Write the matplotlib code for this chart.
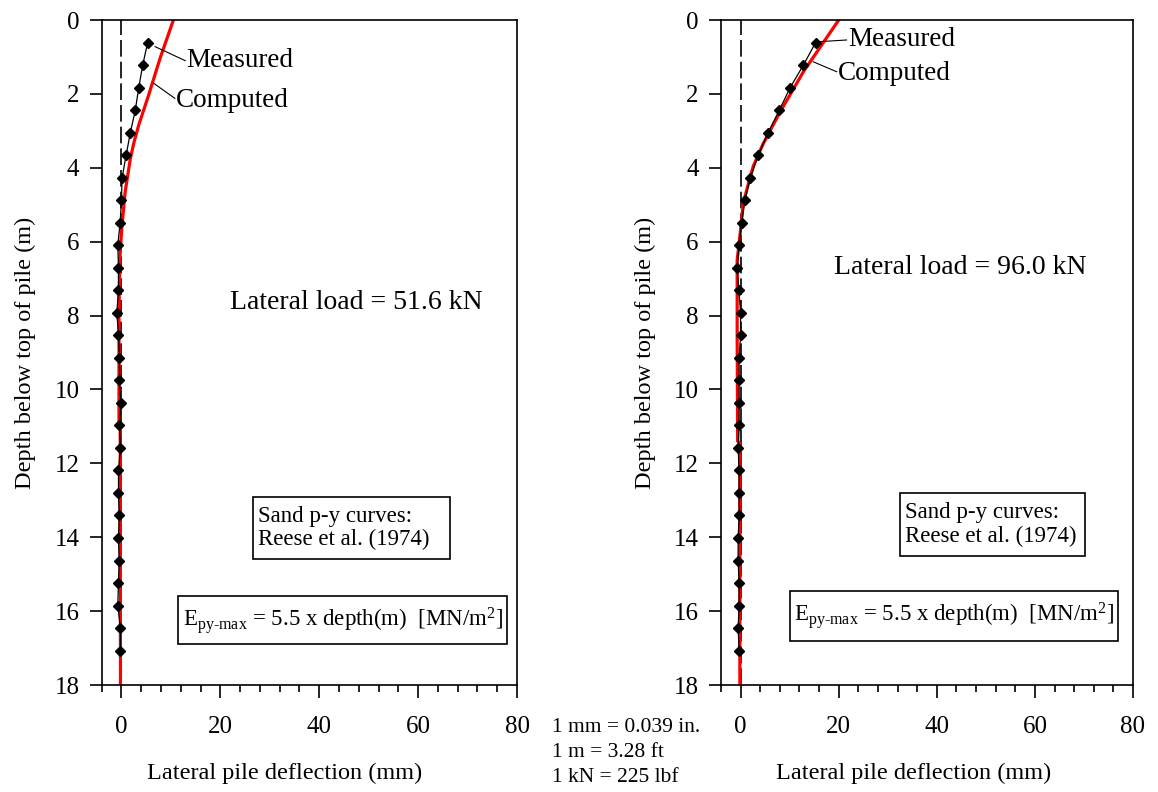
import matplotlib
matplotlib.use("Agg")
import matplotlib.pyplot as plt
from matplotlib.patches import Rectangle
from matplotlib.ticker import MultipleLocator

plt.rcParams['font.family'] = ['Liberation Serif', 'DejaVu Serif']
plt.rcParams['mathtext.fontset'] = 'custom'
plt.rcParams['mathtext.rm'] = 'Liberation Serif'
plt.rcParams['mathtext.it'] = 'Liberation Serif:italic'

# measured points every 2 ft (0.61 m)
depth_meas = [0.61, 1.22, 1.83, 2.44, 3.05, 3.66, 4.27, 4.88, 5.49, 6.10, 6.71, 7.32, 7.92, 8.53,
              9.14, 9.75, 10.36, 10.97, 11.58, 12.19, 12.80, 13.41, 14.02, 14.63, 15.24, 15.85, 16.46, 17.07]
defl_meas_left = [5.3, 4.3, 3.5, 2.8, 1.8, 0.94, 0.13, 0.0, -0.27, -0.74, -0.6, -0.6, -0.94, -0.6,
                  -0.4, -0.4, -0.13, -0.4, -0.2, -0.6, -0.6, -0.47, -0.6, -0.47, -0.6, -0.74, -0.2, -0.2]
defl_meas_right = [15.3, 12.8, 10.1, 7.9, 5.6, 3.6, 2.0, 0.88, 0.2, -0.3, -0.7, -0.35, 0.0, 0.0,
                   -0.3, -0.3, -0.3, -0.3, -0.5, -0.3, -0.3, -0.3, -0.5, -0.5, -0.3, -0.3, -0.5, -0.3]

depth_comp_left = [0, 1.04, 2.03, 2.84, 3.3, 3.75, 4.65, 5.63, 6.3, 7.0, 8.0, 10.9, 11.0, 18.0]
defl_comp_left = [10.5, 7.8, 5.5, 3.5, 2.55, 1.8, 0.75, 0.07, -0.26, -0.4, -0.5, -0.5, -0.25, -0.2]
depth_comp_right = [0, 1.4, 2.5, 3.35, 3.95, 4.35, 4.95, 5.8, 6.5, 8.5, 11.4, 11.45, 18.0]
defl_comp_right = [20.0, 12.8, 8.0, 4.6, 2.6, 1.75, 0.55, -0.1, -0.7, -0.7, -0.6, -0.15, -0.15]

loads = ["51.6", "96.0"]
x_ticks = [0, 20, 40, 60, 80]
y_ticks = [0, 2, 4, 6, 8, 10, 12, 14, 16, 18]

fig = plt.figure(figsize=(11.58, 7.92), dpi=100)
ax_l = fig.add_axes([0.0878, 0.1351, 0.3587, 0.8396])
ax_r = fig.add_axes([0.6226, 0.1351, 0.3558, 0.8396])


def draw_panel(ax, defl_meas, depth_c, defl_c, load, load_pos, meas_lbl, comp_lbl,
               sand_box, eq_box, xlabel_x):
    ax.axvline(0, color='black', lw=1.2, ls=(0, (10, 3)), zorder=1)
    ax.plot(defl_c, depth_c, color='#ff0000', lw=2.3, zorder=2)
    ax.plot(defl_meas, depth_meas, color='black', lw=0.9, marker='D', ms=5.5, zorder=3)

    ax.set_xlim(-4, 80)
    ax.set_ylim(18, 0)
    ax.set_xticks(x_ticks)
    ax.set_yticks(y_ticks)
    ax.xaxis.set_minor_locator(MultipleLocator(4))
    ax.tick_params(axis='both', which='major', direction='out', length=9, width=1.2,
                   labelsize=18, top=False, right=False)
    ax.tick_params(axis='x', which='minor', direction='out', length=5, width=1.2)
    ax.tick_params(axis='x', pad=13)
    ax.tick_params(axis='y', pad=7)
    for s in ax.spines.values():
        s.set_linewidth(1.2)
    ax.set_xlabel('Lateral pile deflection (mm)', fontsize=17.5)
    ax.xaxis.set_label_coords(xlabel_x, -0.117)
    ax.set_ylabel('Depth below top of pile (m)', fontsize=17.5, labelpad=13)

    ax.text(load_pos[0], load_pos[1], f'Lateral load = {load} kN', fontsize=20,
            ha='center', va='center')

    # leader lines and labels
    (mx0, my0, mx1, my1) = meas_lbl
    ax.plot([mx0, mx1], [my0, my1], color='black', lw=0.8)
    ax.text(mx1 + 0.3, my1, 'Measured', fontsize=19.5, ha='left', va='center')
    (cx0, cy0, cx1, cy1) = comp_lbl
    ax.plot([cx0, cx1], [cy0, cy1], color='black', lw=0.8)
    ax.text(cx1 + 0.3, cy1 + 0.05, 'Computed', fontsize=19.5, ha='left', va='center')

    x0, x1, y0, y1 = sand_box
    ax.add_patch(Rectangle((x0, y0), x1 - x0, y1 - y0, fill=False, ec='black', lw=1.2))
    ax.text(x0 + 1.0, (y0 + y1) / 2, 'Sand p-y curves:\nReese et al. (1974)', fontsize=16.5,
            ha='left', va='center', linespacing=1.15)
    x0, x1, y0, y1 = eq_box
    ax.add_patch(Rectangle((x0, y0), x1 - x0, y1 - y0, fill=False, ec='black', lw=1.2))
    ax.text((x0 + x1) / 2, (y0 + y1) / 2,
            r'E$_\mathregular{py\text{-}max}$ = 5.5 x depth(m)  [MN/m$^\mathregular{2}$]',
            fontsize=16.5, ha='center', va='center')


draw_panel(ax_l, defl_meas_left, depth_comp_left, defl_comp_left, loads[0], (47.5, 7.64),
           (6.8, 0.72, 12.9, 1.10), (6.5, 1.71, 10.8, 2.12),
           (26.6, 66.4, 12.9, 14.6), (11.5, 77.9, 15.6, 16.9), 0.44)
draw_panel(ax_r, defl_meas_right, depth_comp_right, defl_comp_right, loads[1], (44.8, 6.7),
           (15.5, 0.59, 21.6, 0.54), (14.8, 1.13, 19.6, 1.40),
           (32.5, 70.2, 12.8, 14.5), (10.1, 77.0, 15.45, 16.8), 0.468)

fig.text(0.477, 0.093, '1 mm = 0.039 in.\n1 m = 3.28 ft\n1 kN = 225 lbf', fontsize=15.5,
         ha='left', va='top', linespacing=1.42)

fig.savefig('out.png', dpi=100)
